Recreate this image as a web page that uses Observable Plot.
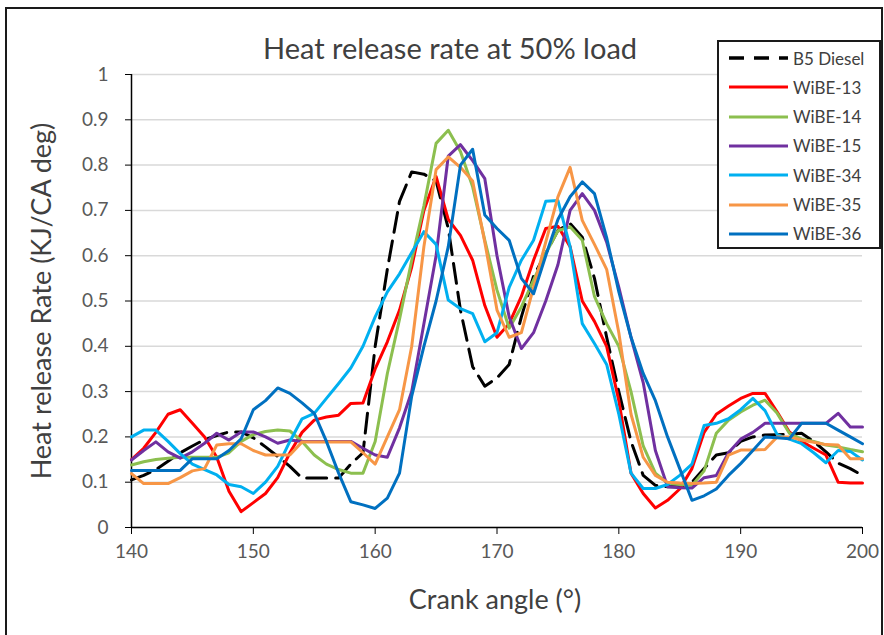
<!DOCTYPE html>
<html><head><meta charset="utf-8">
<script src="https://cdn.jsdelivr.net/npm/d3@7"></script>
<script src="https://cdn.jsdelivr.net/npm/@observablehq/plot@0.6"></script>
<style>
body{margin:0;background:#fff;}
#wrap{position:relative;width:884px;height:635px;overflow:hidden;background:#fff;}
#frame{position:absolute;left:5px;top:7px;width:878px;height:700px;border:2px solid #1a1a1a;box-sizing:border-box;}
#chart{position:absolute;left:0;top:0;}
#legend{position:absolute;left:717px;top:40px;width:164px;height:209px;border:2px solid #1a1a1a;background:#fff;box-sizing:border-box;font-family:Lato,sans-serif;}
.row{position:absolute;left:0;height:20px;display:flex;align-items:center;}
.row span{font-size:17px;color:#404040;margin-left:2px;white-space:nowrap;}
</style></head><body>
<div id="wrap"><div id="chart"></div><div id="frame"></div><div id="legend"></div></div>
<script>
const angles = [140,141,142,143,144,145,146,147,148,149,150,151,152,153,154,155,156,157,158,159,160,161,162,163,164,165,166,167,168,169,170,171,172,173,174,175,176,177,178,179,180,181,182,183,184,185,186,187,188,189,190,191,192,193,194,195,196,197,198,199,200];
const seriesNames = ["B5 Diesel","WiBE-13","WiBE-14","WiBE-15","WiBE-34","WiBE-35","WiBE-36"];
const seriesColors = ["#000000","#FF0000","#8CBF4F","#7030A0","#00B0F0","#F79646","#0070C0"];
const b5Diesel = [.105,.115,.128,.146,.165,.18,.194,.203,.211,.211,.198,.178,.157,.135,.109,.109,.109,.109,.14,.165,.40,.57,.72,.785,.78,.765,.66,.48,.355,.312,.33,.36,.465,.555,.605,.656,.671,.641,.55,.42,.30,.19,.115,.093,.09,.09,.10,.13,.16,.165,.19,.20,.204,.205,.206,.208,.19,.167,.142,.13,.115];
const wibe13 = [.15,.175,.21,.25,.26,.23,.20,.155,.08,.035,.055,.075,.11,.165,.21,.237,.244,.248,.274,.275,.35,.41,.48,.575,.70,.775,.68,.645,.59,.49,.42,.45,.51,.59,.66,.665,.62,.50,.455,.40,.28,.12,.075,.043,.06,.085,.13,.21,.25,.268,.285,.296,.296,.255,.211,.19,.175,.16,.10,.098,.098];
const wibe14 = [.138,.145,.15,.153,.155,.155,.155,.155,.165,.19,.205,.212,.215,.213,.19,.16,.14,.128,.12,.12,.19,.34,.46,.59,.71,.848,.877,.83,.752,.634,.524,.44,.487,.546,.605,.655,.664,.634,.51,.45,.40,.30,.18,.12,.098,.095,.093,.125,.208,.237,.255,.27,.281,.252,.208,.195,.19,.182,.178,.172,.167];
const wibe15 = [.149,.17,.189,.167,.153,.167,.186,.208,.193,.211,.211,.20,.186,.193,.19,.19,.19,.19,.19,.175,.16,.155,.22,.30,.45,.60,.82,.845,.81,.77,.60,.465,.395,.43,.50,.58,.70,.737,.70,.63,.53,.42,.32,.17,.09,.088,.087,.11,.115,.165,.195,.21,.23,.23,.23,.23,.23,.23,.252,.222,.222];
const wibe34 = [.20,.215,.215,.19,.163,.14,.128,.116,.095,.09,.075,.10,.135,.19,.24,.252,.285,.318,.352,.40,.465,.52,.56,.607,.653,.625,.502,.483,.472,.41,.43,.53,.59,.634,.72,.722,.62,.45,.406,.36,.25,.12,.086,.086,.095,.115,.14,.225,.23,.24,.26,.285,.258,.205,.195,.185,.165,.143,.17,.168,.149];
const wibe35 = [.119,.097,.097,.097,.11,.125,.13,.182,.185,.185,.17,.16,.16,.16,.189,.189,.189,.189,.189,.165,.14,.20,.26,.40,.62,.79,.818,.795,.765,.63,.48,.42,.43,.53,.63,.73,.795,.678,.625,.57,.43,.25,.155,.115,.10,.098,.097,.098,.10,.16,.171,.171,.172,.20,.20,.193,.188,.183,.182,.152,.152];
const wibe36 = [.126,.126,.126,.126,.126,.152,.152,.152,.17,.196,.26,.28,.308,.296,.275,.252,.19,.12,.057,.05,.042,.065,.12,.29,.40,.50,.62,.80,.835,.69,.66,.634,.55,.516,.60,.68,.73,.763,.737,.64,.52,.42,.34,.28,.20,.13,.06,.07,.085,.115,.141,.17,.20,.198,.196,.23,.23,.23,.215,.20,.185];
const xTicks = [140,150,160,170,180,190,200];
const yTicks = [0,0.1,0.2,0.3,0.4,0.5,0.6,0.7,0.8,0.9,1];
const title = "Heat release rate at 50% load";
const xLabel = "Crank angle (°)";
const yLabel = "Heat release Rate (KJ/CA deg)";

const seriesValues = [b5Diesel, wibe13, wibe14, wibe15, wibe34, wibe35, wibe36];
const rows = seriesNames.flatMap((name, i) => angles.map((a, j) => ({series: name, angle: a, value: seriesValues[i][j]})));

const chart = Plot.plot({
  width: 884, height: 635,
  marginLeft: 131, marginRight: 22, marginTop: 74, marginBottom: 108,
  style: {fontFamily: "Lato, sans-serif", background: "transparent"},
  x: {domain: [140, 200]},
  y: {domain: [0, 1]},
  marks: [
    Plot.gridY(yTicks, {stroke: "#d9d9d9", strokeOpacity: 1, strokeWidth: 1.5}),
    Plot.ruleY([0], {stroke: "#000", strokeWidth: 1.5}),
    Plot.ruleX([140], {stroke: "#000", strokeWidth: 1.5}),
    Plot.axisY(yTicks, {tickSize: 6, tickPadding: 17, stroke: "#000", fill: "#595959", fontSize: 19, label: null, tickFormat: d => String(d)}),
    Plot.axisX(xTicks, {tickSize: 7, tickPadding: 10, stroke: "#000", fill: "#595959", fontSize: 19, label: null, tickFormat: d => String(d)}),
    ...seriesNames.map((name, i) => Plot.line(rows.filter(r => r.series === name), {
      x: "angle", y: "value", stroke: seriesColors[i], strokeWidth: 3,
      strokeDasharray: i === 0 ? "20,9" : null, strokeLinejoin: "round"
    })),
    Plot.text([title], {frameAnchor: "top", textAnchor: "middle", lineAnchor: "middle", dx: -47, dy: -25, fontSize: 29, fill: "#404040"}),
    Plot.text([xLabel], {frameAnchor: "bottom", textAnchor: "middle", lineAnchor: "middle", dx: -2, dy: 73, fontSize: 27, fill: "#404040"}),
    Plot.text([yLabel], {frameAnchor: "left", textAnchor: "middle", lineAnchor: "middle", dx: -89, rotate: -90, fontSize: 27, fill: "#404040"})
  ]
});
document.getElementById("chart").appendChild(chart);

const legend = d3.select("#legend");
seriesNames.forEach((name, i) => {
  const row = legend.append("div").attr("class", "row").style("top", (6 + i * 29.3) + "px");
  const svg = row.append("svg").attr("width", 72).attr("height", 20);
  svg.append("line").attr("x1", 10).attr("x2", 69).attr("y1", 10).attr("y2", 10)
    .attr("stroke", seriesColors[i]).attr("stroke-width", i === 0 ? 3.5 : 3)
    .attr("stroke-dasharray", i === 0 ? "15,10" : null);
  row.append("span").text(name);
});
</script>
</body></html>
